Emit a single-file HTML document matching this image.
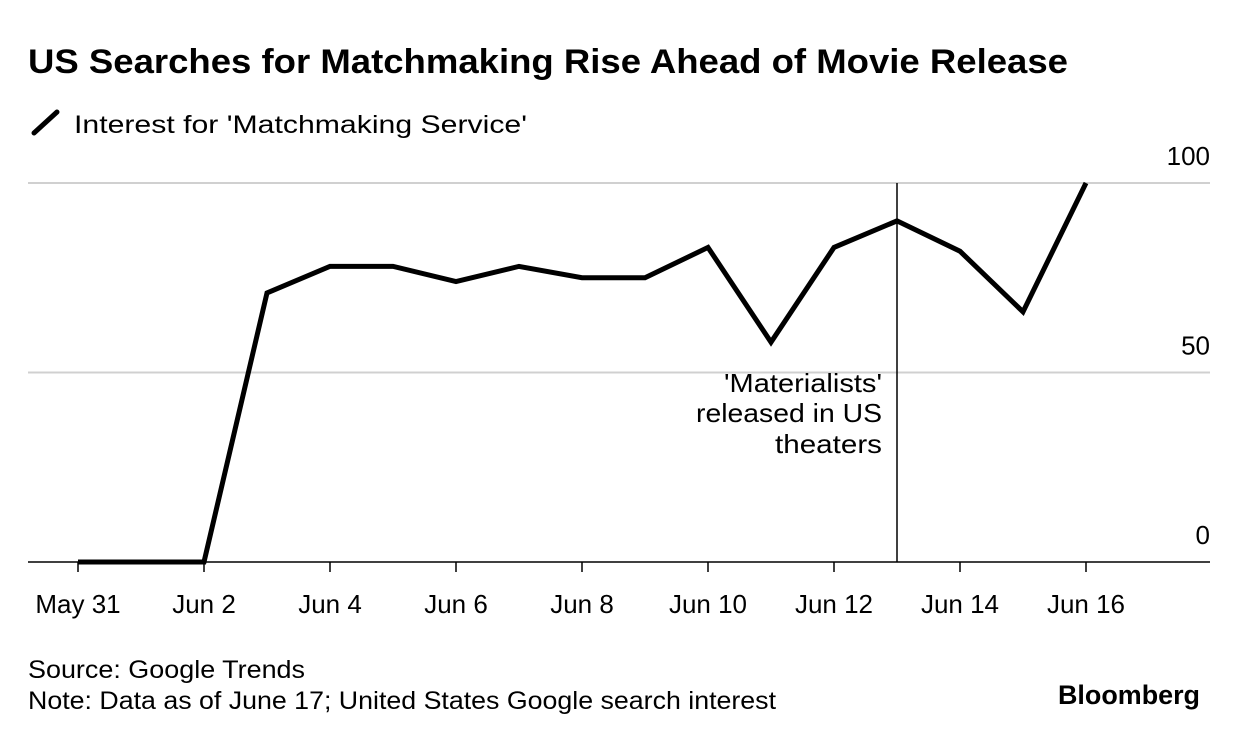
<!DOCTYPE html>
<html><head><meta charset="utf-8"><style>
body{margin:0;background:#fff;font-family:"Liberation Sans",sans-serif;}
#wrap{position:relative;width:1240px;height:740px;overflow:hidden}
</style></head><body>
<div id="wrap">
<svg id="svg" width="1240" height="740">
<text x="28" y="73" font-size="34" font-weight="bold" fill="#000" textLength="1040" lengthAdjust="spacingAndGlyphs">US Searches for Matchmaking Rise Ahead of Movie Release</text>
<line x1="34" y1="133" x2="57" y2="112" stroke="#000" stroke-width="5" stroke-linecap="round"/>
<text x="74" y="133" font-size="25" fill="#000" textLength="453" lengthAdjust="spacingAndGlyphs">Interest for 'Matchmaking Service'</text>
<g id="grid"></g><g id="xax"></g>
<line x1="897" y1="183" x2="897" y2="562" stroke="#000" stroke-width="1.5"/>
<text font-size="26" fill="#000" text-anchor="end"><tspan x="882" y="392" textLength="158" lengthAdjust="spacingAndGlyphs">'Materialists'</tspan><tspan x="882" y="422" textLength="186" lengthAdjust="spacingAndGlyphs">released in US</tspan><tspan x="882" y="453" textLength="107" lengthAdjust="spacingAndGlyphs">theaters</tspan></text>
<g id="series"></g>
<text x="28" y="678" font-size="25" fill="#000" textLength="277" lengthAdjust="spacingAndGlyphs">Source: Google Trends</text>
<text x="28" y="709" font-size="25" fill="#000" textLength="748" lengthAdjust="spacingAndGlyphs">Note: Data as of June 17; United States Google search interest</text>
<text x="1200" y="704" font-size="27" font-weight="bold" text-anchor="end" fill="#000" textLength="142" lengthAdjust="spacingAndGlyphs">Bloomberg</text>
</svg></div>
<script>
const days=["May 31","Jun 1","Jun 2","Jun 3","Jun 4","Jun 5","Jun 6","Jun 7","Jun 8","Jun 9","Jun 10","Jun 11","Jun 12","Jun 13","Jun 14","Jun 15","Jun 16"];
const values=[0,0,0,71,78,78,74,78,75,75,83,58,83,90,82,66,100];
const yTicks=[0,50,100];
const xTickLabels=["May 31","Jun 2","Jun 4","Jun 6","Jun 8","Jun 10","Jun 12","Jun 14","Jun 16"];
const NS="http://www.w3.org/2000/svg";
const x=i=>78+i*63;
const y=v=>562-v*3.79;
function mk(t,a,p){const e=document.createElementNS(NS,t);for(const k in a)e.setAttribute(k,a[k]);p.appendChild(e);return e;}
const grid=document.getElementById('grid');
yTicks.forEach(v=>{
  if(v>0){const l=mk('line',{x1:28,x2:1210,y1:y(v),y2:y(v),stroke:'#d0d0d0','stroke-width':2},grid);
  
  }
  const t=mk('text',{x:1210,y:y(v)-18,'font-size':26,'text-anchor':'end',fill:'#000'},grid);
  t.textContent=v;
  
  
});
const xax=document.getElementById('xax');
const ax=mk('line',{x1:28,x2:1210,y1:562,y2:562,stroke:'#000','stroke-width':1.5},xax);


xTickLabels.forEach(lbl=>{
  const i=days.indexOf(lbl);
  const tk=mk('line',{x1:x(i),x2:x(i),y1:562,y2:572,stroke:'#000','stroke-width':1.5},xax);
  
  
  const t=mk('text',{x:x(i),y:613,'font-size':26,'text-anchor':'middle',fill:'#000'},xax);
  t.textContent=lbl;
  
  
});
const p=mk('polyline',{points:values.map((v,i)=>x(i)+','+y(v)).join(' '),fill:'none',stroke:'#000','stroke-width':5,'stroke-linejoin':'miter'},document.getElementById('series'));


</script>
</body></html>
